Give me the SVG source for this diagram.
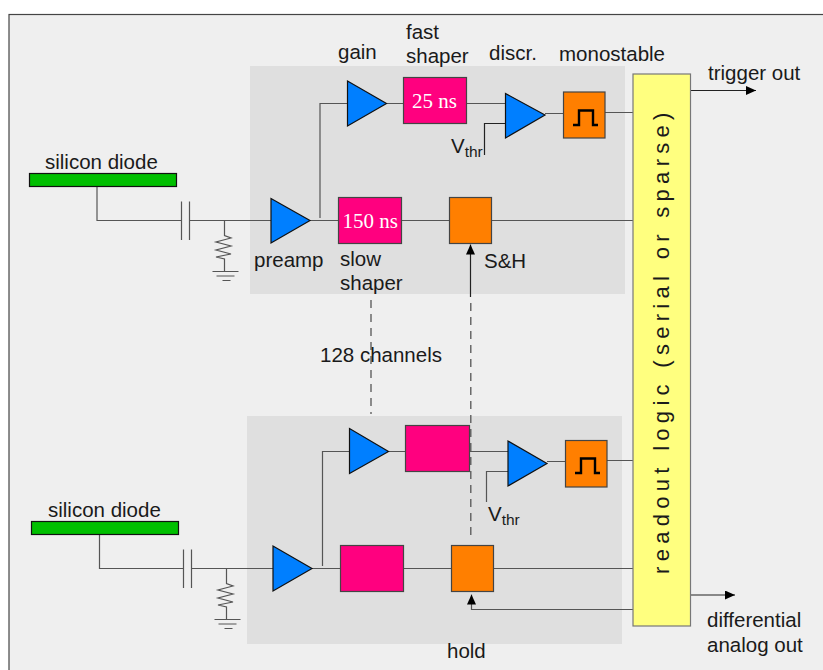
<svg xmlns="http://www.w3.org/2000/svg" width="823" height="670" viewBox="0 0 823 670">
<style>
text{font-family:"Liberation Sans",Arial,sans-serif;font-size:20.500px;fill:#1a1a1a}
.w{fill:none;stroke:#555;stroke-width:1.2}
.k{fill:none;stroke:#222;stroke-width:1.2}
.d{fill:none;stroke:#555;stroke-width:1.3;stroke-dasharray:8 6}
.tri{fill:#007fff;stroke:#111;stroke-width:1.2}
.pk{fill:#ff007f;stroke:#444;stroke-width:1.2}
.or{fill:#ff7f00;stroke:#444;stroke-width:1.2}
.gr{fill:#00bf00;stroke:#111;stroke-width:1.2}
.pu{fill:none;stroke:#000;stroke-width:2.400}
.ser{font-family:"Liberation Serif",serif;font-size:21px;fill:#fff}
.sub{font-size:15.500px}
</style>
<defs>
<marker id="ah" markerWidth="10" markerHeight="9" refX="10" refY="4.500" orient="auto" markerUnits="userSpaceOnUse"><path d="M0 0L10 4.500L0 9Z" fill="#000"/></marker>
<g id="rg"><path class="w" d="M0 0V15L6.500 17.500L-8.500 21.500L6.500 25.500L-8.500 29.500L6.500 33.500L-8.500 36.500L0 38.500V51M-12 51H14M-8 55.500H10M-2 60H6"/></g>
</defs>
<rect x="0" y="0" width="823" height="670" fill="#fff"/>
<rect x="9" y="14.500" width="830" height="670" fill="#efefef" stroke="#444" stroke-width="1.200"/>
<rect x="250" y="66" width="375" height="228" fill="#dfdfdf"/>
<rect x="247" y="416" width="375" height="228" fill="#dfdfdf"/>
<g id="connectors">
<path class="w" d="M97 186.500V220.500H181M189.500 220.500H271M310 220.500H338.500M320 218V103.500H347.500M386.500 103.500H403.500M466.500 103.500H505.500M545 113.500H563.500M605 112.500H633M401.500 220.500H449.500M491.500 220.500H633"/>
<path class="w" d="M181.500 201.500V240M189.500 201.500V240"/>
<path class="k" d="M506 123.500H484.500V155"/>
<use href="#rg" x="224.500" y="220.500"/>
<path class="d" d="M371 300V414"/>
<path class="k" d="M470.500 297V244.500" marker-end="url(#ah)"/>
<path class="d" d="M470.800 303V538"/>
<path class="k" d="M691 90.500H756" marker-end="url(#ah)"/>
<path class="w" d="M99.500 534.500V568.500H183M191.500 568.500H273M312 568.500H340.500M322.500 566V451.500H349.500M388.500 451.500H405.500M469.500 451.500H508M547 461.500H565.500M607 460.500H633M403.500 568.500H451.500M493.500 568.500H633"/>
<path class="w" d="M183.500 549.500V588M191.500 549.500V588"/>
<path class="w" d="M508 471.500H486.500V502"/>
<use href="#rg" x="226.500" y="568.500"/>
<path class="w" d="M636.500 609.500H471.500V594.500" marker-end="url(#ah)"/>
<path class="k" d="M691 595H735" marker-end="url(#ah)"/>
</g>
<g id="top-diode"><rect class="gr" x="29.500" y="173.500" width="147" height="13"/><text x="45" y="169">silicon diode</text></g>
<g id="top-preamp"><path class="tri" d="M271 198.500V243L310 220.500Z"/><text x="254" y="266.500">preamp</text></g>
<g id="top-slow"><rect class="pk" x="338.500" y="197.500" width="63" height="46"/><text class="ser" x="342.500" y="227.500">150 ns</text><text x="340" y="266">slow</text><text x="340" y="290">shaper</text></g>
<g id="top-sh"><rect class="or" x="449.500" y="197.500" width="42" height="46"/><text x="484" y="268">S&amp;H</text></g>
<g id="top-gain"><path class="tri" d="M347.500 81V126L386.500 103.500Z"/><text x="338" y="59">gain</text></g>
<g id="top-fast"><rect class="pk" x="403.500" y="77.500" width="63" height="46"/><text class="ser" x="412" y="107.500">25 ns</text><text x="406" y="39">fast</text><text x="406" y="63">shaper</text></g>
<g id="top-discr"><path class="tri" d="M505.500 93.500V138L545 115Z"/><text x="489" y="60">discr.</text><text x="451" y="152.500">V<tspan class="sub" dy="4">thr</tspan></text></g>
<g id="top-mono"><rect class="or" x="563.500" y="92" width="41.500" height="46"/><path class="pu" d="M573 125H579V110.500H593V125H598"/><text x="559" y="61">monostable</text></g>
<g id="readout"><rect x="633" y="74" width="57.500" height="552" fill="#ffff7f" stroke="#777" stroke-width="1.200"/><text transform="translate(669 574) rotate(-90)" style="font-size:22px;letter-spacing:5.300px">readout logic (serial or sparse)</text></g>
<text x="708" y="80">trigger out</text>
<text x="320" y="362">128 channels</text>
<g id="bottom-diode"><rect class="gr" x="31.500" y="521.500" width="147" height="13"/><text x="48" y="517">silicon diode</text></g>
<g id="bottom-preamp"><path class="tri" d="M273 546V591L312 568.500Z"/></g>
<g id="bottom-slow"><rect class="pk" x="340.500" y="545.500" width="63" height="46"/></g>
<g id="bottom-sh"><rect class="or" x="451.500" y="545.500" width="42" height="46"/><text x="447" y="658">hold</text></g>
<g id="bottom-gain"><path class="tri" d="M349.500 428.500V473.500L388.500 451.500Z"/></g>
<g id="bottom-fast"><rect class="pk" x="405.500" y="425.500" width="64" height="46"/></g>
<g id="bottom-discr"><path class="tri" d="M508 441V486L547 463.500Z"/><text x="488" y="520.500">V<tspan class="sub" dy="4">thr</tspan></text></g>
<g id="bottom-mono"><rect class="or" x="565.500" y="440.500" width="41.500" height="46.500"/><path class="pu" d="M575 473H581V458.500H595V473H600"/></g>
<text x="707" y="627">differential</text>
<text x="707" y="652">analog out</text>
</svg>
